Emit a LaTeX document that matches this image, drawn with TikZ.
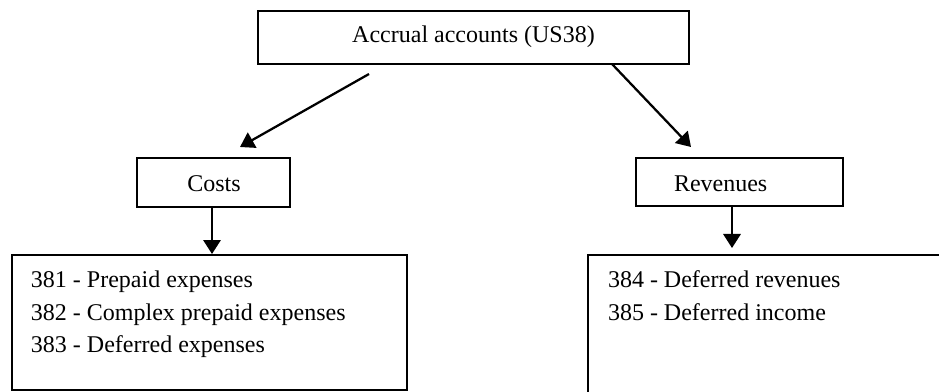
\documentclass[tikz,border=0pt]{standalone}
\usepackage{fontspec}
\setmainfont{Liberation Serif}
\usetikzlibrary{arrows.meta}
\begin{document}
\begin{tikzpicture}[x=0.75pt,y=-0.75pt,
  box/.style={draw,line width=1.5pt,rectangle,inner sep=0pt,outer sep=0pt,anchor=north west},
  lbl/.style={inner sep=0pt,outer sep=0pt,font=\fontsize{18}{24}\selectfont},
  conn/.style={line width=1.7pt,-{Triangle[length=10.5pt,width=13pt]}}]
\useasboundingbox (0,0) rectangle (939,392);
\begin{scope}
\clip (0,0) rectangle (939,392);
% boxes
\node[box,minimum width=323.25pt,minimum height=39.75pt] (top) at (258,11) {};
\node[box,minimum width=114.75pt,minimum height=36.75pt] (costs) at (137,158) {};
\node[box,minimum width=155.25pt,minimum height=36pt] (rev) at (636,158) {};
\node[box,minimum width=296.25pt,minimum height=101.25pt] (lbox) at (12,255) {};
\node[box,minimum width=300pt,minimum height=120pt] (rbox) at (588,255) {};
% texts
\node[lbl,anchor=base] (ttop) at (473.5,43) {Accrual accounts (US38)};
\node[lbl,anchor=base] (tcosts) at (214,192) {Costs};
\node[lbl,anchor=base west] (trev) at (674,192) {Revenues};
\node[lbl,anchor=base west] (t381) at (31,287) {381 - Prepaid expenses};
\node[lbl,anchor=base west] (t382) at (31,320) {382 - Complex prepaid expenses};
\node[lbl,anchor=base west] (t383) at (31,352) {383 - Deferred expenses};
\node[lbl,anchor=base west] (t384) at (608,287) {384 - Deferred revenues};
\node[lbl,anchor=base west] (t385) at (608,320) {385 - Deferred income};
% connector ends
\coordinate (ls) at (369,74);
\coordinate (le) at (240,147);
\coordinate (rs) at (612,64);
\coordinate (re) at (691,147);
\coordinate (cs) at (212,207);
\coordinate (ce) at (212,254);
\coordinate (vs) at (732,206);
\coordinate (ve) at (732,248);
\draw[conn] (ls) -- (le);
\draw[conn] (rs) -- (re);
\draw[conn] (cs) -- (ce);
\draw[conn] (vs) -- (ve);
\end{scope}
\end{tikzpicture}
\end{document}
